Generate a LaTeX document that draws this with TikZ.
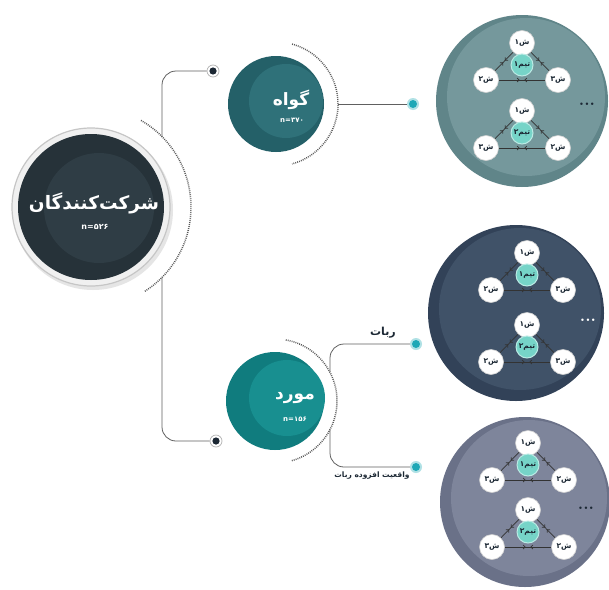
\documentclass[tikz,border=0pt]{standalone}
\usepackage{fontspec}
\usepackage{tikz}
\usetikzlibrary{arrows.meta,decorations.markings}
\newfontfamily\fa[Script=Arabic]{DejaVu Sans}
\TeXXeTstate=1
\definecolor{slate}{RGB}{38,50,57}
\definecolor{slateface}{RGB}{47,61,69}
\definecolor{tealbase}{RGB}{36,96,104}
\definecolor{tealface}{RGB}{47,113,121}
\definecolor{mordbase}{RGB}{16,124,126}
\definecolor{mordface}{RGB}{24,143,144}
\definecolor{poolA}{RGB}{96,133,137}
\definecolor{poolAface}{RGB}{117,152,156}
\definecolor{poolB}{RGB}{50,66,88}
\definecolor{poolBface}{RGB}{64,82,104}
\definecolor{poolC}{RGB}{106,113,136}
\definecolor{poolCface}{RGB}{126,133,155}
\definecolor{aqua}{RGB}{118,212,200}
\definecolor{dotteal}{RGB}{30,168,182}
\definecolor{inkdark}{RGB}{28,40,52}

\begin{document}
\begin{tikzpicture}[x=1pt,y=-1pt,
    wire/.style={draw=gray!75!black, line width=0.8pt, rounded corners=14pt},
    halo/.style={draw=gray!70!black, line width=1.5pt, dash pattern=on 0.9pt off 1.1pt},
    hub/.style={circle, draw=gray!60, line width=0.7pt, fill=white, minimum size=12pt, inner sep=0pt,
      path picture={\fill[inkdark] (path picture bounding box.center) circle[radius=3.6pt];}},
    tip/.style={circle, fill=dotteal!35, minimum size=12pt, inner sep=0pt,
      path picture={\fill[dotteal] (path picture bounding box.center) circle[radius=4pt];}},
    member/.style={circle, fill=white, draw=gray!35, line width=0.6pt, minimum size=25pt, inner sep=0pt,
      text=inkdark, font=\fa\bfseries\fontsize{7.5}{8}\selectfont},
    team/.style={member, fill=aqua, draw=aqua!50!white, line width=1pt, minimum size=22pt},
    tie/.style={draw=black!80, line width=0.7pt, postaction={decorate}, decoration={markings,
      mark=at position 0.45 with {\arrow{Straight Barb[length=2pt]}},
      mark=at position 0.55 with {\arrowreversed{Straight Barb[length=2pt]}}}},
    title/.style={text=white, font=\fa\bfseries\fontsize{#1}{#1}\selectfont},
    caption/.style={text=inkdark, font=\fa\bfseries\fontsize{#1}{#1}\selectfont}]
    \useasboundingbox (0,0) rectangle (609,589);
    \fill[white] (0,0) rectangle (609,589);

    \node[hub] (d1) at (213,71) {};
    \node[hub] (d2) at (216,441) {};
    \node[tip] (d3) at (413,104) {};
    \node[tip] (d4) at (416,344) {};
    \node[tip] (d5) at (416,467) {};

    \fill[gray!20] (93,210) circle[radius=80];
    \node[circle, minimum size=158pt, fill=gray!12, draw=gray!45, line width=1.2pt] (main) at (91,207) {};
    \fill[slate] (main.center) circle[radius=73];
    \fill[slateface] ([shift={(8,1)}]main.center) circle[radius=55];
    \node[title=18.5] (maintitle) at (94,203) {\beginR شرکت‌کنندگان\endR};
    \node[title=8] (maincount) at (95,227) {n=۵۲۶};
    \draw[halo] ([shift={(-60:100)}]main.center) arc[start angle=-60, end angle=58, radius=100];
    \coordinate (spinetop) at (162,137);
    \coordinate (spinebot) at (162,277);
    \draw[wire] (d1.west) -| (spinetop);
    \draw[wire] (spinebot) |- (d2.west);

    \node[circle, minimum size=96pt, fill=tealbase] (gavah) at (276,104) {};
    \fill[tealface] ([shift={(10,-3)}]gavah.center) circle[radius=37];
    \node[title=17] (gavahname) at (291,100) {\beginR گواه\endR};
    \node[title=7] (gavahcount) at (292,120) {n=۳۷۰};
    \draw[halo] ([shift={(-75:62)}]gavah.center) arc[start angle=-75, end angle=75, radius=62];
    \coordinate (gavahtip) at (338,104);
    \draw[wire] (gavahtip) -- (d3.west);

    \node[circle, minimum size=98pt, fill=mordbase] (mord) at (275,401) {};
    \fill[mordface] ([shift={(12,-3)}]mord.center) circle[radius=38];
    \node[title=17] (mordname) at (295,398) {\beginR مورد\endR};
    \node[title=7] (mordcount) at (295,419) {n=۱۵۶};
    \draw[halo] ([shift={(-80:62)}]mord.center) arc[start angle=-80, end angle=75, radius=62];
    \coordinate (mordup) at (330,372);
    \coordinate (morddown) at (330,430);
    \draw[wire] (mordup) |- (d4.west);
    \draw[wire] (morddown) |- (d5.west);
    \node[caption=11] (robot) at (383,333) {\beginR ربات\endR};
    \node[caption=7.5] (arrobot) at (372,476) {\beginR واقعیت افزوده ربات\endR};

    \foreach \pl/\cx/\cy/\dm/\fr/\rim/\face/\mx/\my/\dotc in
      {p1/522/101/172/79/poolA/poolAface/587/104/inkdark,
       p2/516/313/176/81/poolB/poolBface/588/320/white,
       p3/525/502/170/78/poolC/poolCface/586/508/inkdark} {
      \node[circle, minimum size=\dm pt, fill=\rim] (\pl) at (\cx,\cy) {};
      \fill[\face] ([shift={(4,-4)}]\pl.center) circle[radius=\fr];
      \node[text=\dotc, font=\bfseries\LARGE] (\pl-more) at (\mx,\my) {...};
    }

    \foreach \tri/\tx/\ty/\tm/\lf/\rt in
      {a/522/43/۱/۲/۳, b/522/111/۲/۳/۲, c/527/253/۱/۲/۳,
       d/527/325/۲/۲/۳, e/528/443/۱/۳/۲, f/528/510/۲/۳/۲} {
      \node[member] (\tri-top) at (\tx,\ty) {\beginR ش۱\endR};
      \node[member] (\tri-left) at (\tx-36,\ty+37) {\beginR ش\lf\endR};
      \node[member] (\tri-right) at (\tx+36,\ty+37) {\beginR ش\rt\endR};
      \draw[tie] (\tri-top) -- (\tri-left);
      \draw[tie] (\tri-top) -- (\tri-right);
      \draw[tie] (\tri-left) -- (\tri-right);
      \node[team] (\tri-team) at (\tx,\ty+22) {\beginR تیم\tm\endR};
    }
\end{tikzpicture}
\end{document}
